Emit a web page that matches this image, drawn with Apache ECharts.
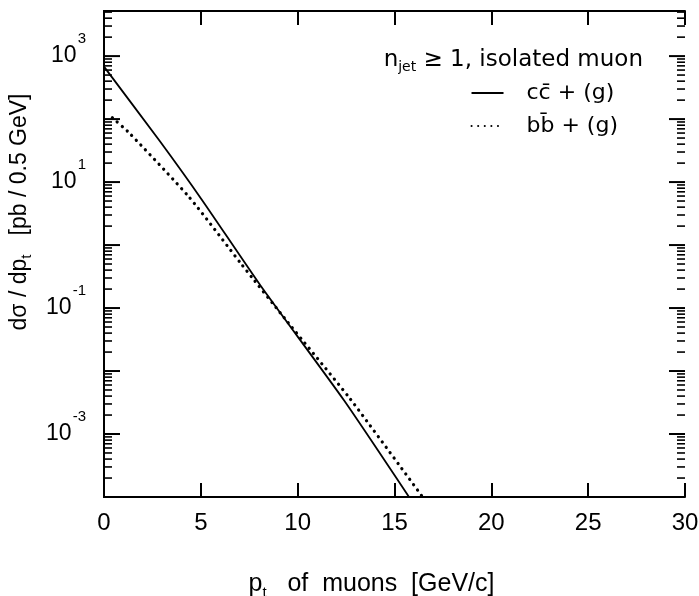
<!DOCTYPE html>
<html><head><meta charset="utf-8">
<script src="https://cdn.jsdelivr.net/npm/echarts@6/dist/echarts.min.js"></script>
<style>html,body{margin:0;padding:0;background:#fff}#c{width:699px;height:596px}</style>
</head><body><div id="c"></div>
<script>
// ---- data ----
const ccX = [0, 2.85, 5.06, 8.07, 12.4, 15.75];
const ccY = [680, 46, 5.2, 0.23, 0.0034, 0.0001];
const bbX = [0.43, 1.31, 4.39, 7.09, 9.5, 12.7, 16.4];
const bbY = [105, 60, 5.8, 0.50, 0.059, 0.00365, 0.000105];
const xTicks = [0, 5, 10, 15, 20, 25, 30];
const yLabelExponents = [3, 1, -1, -3];
const decades = [-3, -2, -1, 0, 1, 2, 3];
const minorMantissas = [2, 3, 4, 5, 6, 7, 8, 9];
const ccName = 'cc\u0304 + (g)';
const bbName = 'bb\u0304 + (g)';

const FONT = '"Liberation Sans", "DejaVu Sans", sans-serif';
const FONT2 = '"DejaVu Sans", "Liberation Sans", sans-serif';
const yTickVals = [];
decades.forEach(d => yTickVals.push([Math.pow(10, d), 16]));
[-4].concat(decades).forEach(d => minorMantissas.forEach(m => { const v = m * Math.pow(10, d); if (v < 5200) yTickVals.push([v, 8]); }));

const chart = echarts.init(document.getElementById('c'), null, {renderer: 'canvas'});
const yAxisBase = {
  type: 'log', min: 1e-4, max: 5200, logBase: 10,
  axisLine: {show: true, lineStyle: {color: '#000', width: 2}},
  axisTick: {show: false},
  splitLine: {show: false}
};
const txt = (size, extra, fam) => Object.assign({fontFamily: fam || FONT, fontSize: size, color: '#000', fontWeight: 'normal'}, extra || {});
chart.setOption({
  animation: false,
  backgroundColor: '#fff',
  grid: {left: 104, right: 14, top: 11, bottom: 99, containLabel: false, outerBoundsMode: 'none'},
  title: {
    text: '{n|n}{j|jet}{n| \u2265 1, isolated muon}',
    right: 51, top: 41,
    textStyle: {fontWeight: 'normal', rich: {
      n: txt(23, null, FONT2),
      j: txt(14, {padding: [14, 0, 0, 0]}, FONT2)
    }}
  },
  legend: {
    orient: 'vertical', right: 76, top: 77, itemWidth: 32, itemHeight: 14, itemGap: 11,
    align: 'left',
    itemStyle: {color: 'rgba(0,0,0,0)', borderColor: 'rgba(0,0,0,0)', borderWidth: 0},
    textStyle: txt(22, {padding: [0, 0, 0, 18]}, FONT2),
    data: [ccName, bbName]
  },
  xAxis: [{
    type: 'value', min: 0, max: 30, interval: 5, position: 'bottom',
    axisLine: {show: true, onZero: false, lineStyle: {color: '#000', width: 2}},
    axisTick: {show: true, inside: true, length: 14, lineStyle: {color: '#000', width: 2}},
    axisLabel: Object.assign(txt(24), {margin: 14,
      formatter: v => xTicks.includes(v) ? String(v) : ''}),
    splitLine: {show: false},
    name: '{p|p}{t|t}{n|   of  muons  [GeV/c]}', nameLocation: 'middle', nameGap: 72,
    nameTextStyle: {padding: [0, 46, 0, 0], rich: {
      p: txt(25),
      t: txt(15, {padding: [16, 0, 0, 0]}),
      n: txt(25)
    }}
  }, {
    type: 'value', min: 0, max: 30, interval: 5, position: 'top',
    axisLine: {show: true, onZero: false, lineStyle: {color: '#000', width: 2}},
    axisTick: {show: true, inside: true, length: 14, lineStyle: {color: '#000', width: 2}},
    axisLabel: {show: false}, splitLine: {show: false}
  }],
  yAxis: [Object.assign({}, yAxisBase, {
    position: 'left',
    axisLabel: {margin: 18, showMaxLabel: false, showMinLabel: false,
      formatter: v => {
        const e = Math.round(Math.log10(v));
        if (Math.abs(Math.log10(v) - e) > 1e-6 || !yLabelExponents.includes(e)) return '';
        return '{b|10}{s|' + e + '}';
      },
      rich: {
        b: txt(23),
        s: txt(15, {padding: [0, 0, 34, 1]})
      }
    },
    name: '{n|d\u03c3 / dp}{t|t}{n|   [pb / 0.5 GeV]}', nameLocation: 'middle', nameRotate: 90, nameGap: 70,
    nameTextStyle: {padding: [0, 0, 0, 84], rich: {
      n: txt(23),
      t: txt(15, {padding: [14, 0, 0, 0]})
    }}
  }), Object.assign({}, yAxisBase, {
    position: 'right', axisLabel: {show: false}
  })],
  series: [{
    name: ccName, type: 'line', xAxisIndex: 0, yAxisIndex: 0,
    data: ccX.map((x, i) => [x, ccY[i]]), showSymbol: false, symbol: 'none', smooth: 0.2,
    lineStyle: {color: '#000', width: 1.8, type: 'solid'}, itemStyle: {color: '#000'}, clip: true
  }, {
    name: bbName, type: 'line', xAxisIndex: 0, yAxisIndex: 0,
    data: bbX.map((x, i) => [x, bbY[i]]), showSymbol: false, symbol: 'none', smooth: 0.2,
    lineStyle: {color: '#000', width: 3.2, type: [0.1, 6.5], cap: 'round'}, itemStyle: {color: '#000'}, clip: true
  }, {
    type: 'custom', xAxisIndex: 0, yAxisIndex: 0, silent: true, clip: false,
    data: yTickVals.map(t => [0, t[0], t[1]]),
    encode: {x: 0, y: 1},
    renderItem: (params, api) => {
      const v = api.value(1);
      const len = api.value(2);
      const lw = len > 10 ? 2 : 1.6;
      const l = api.coord([0, v]);
      const r = api.coord([30, v]);
      return {type: 'group', children: [
        {type: 'line', shape: {x1: l[0], y1: l[1], x2: l[0] + len, y2: l[1]}, style: {stroke: '#000', lineWidth: lw}},
        {type: 'line', shape: {x1: r[0] - len, y1: r[1], x2: r[0], y2: r[1]}, style: {stroke: '#000', lineWidth: lw}}
      ]};
    }
  }]
});
</script></body></html>
